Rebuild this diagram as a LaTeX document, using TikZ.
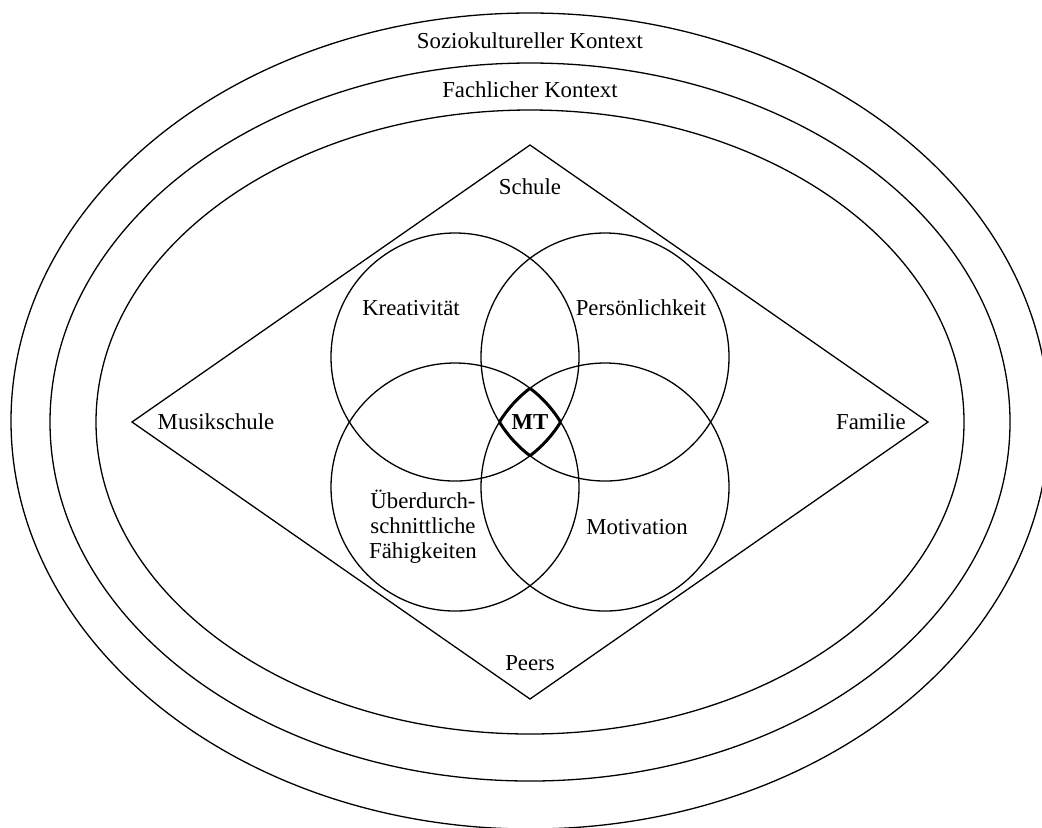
\documentclass[tikz,border=0pt]{standalone}
\usepackage{fontspec}
\setmainfont{Liberation Serif}
\begin{document}
\begin{tikzpicture}[x=0.5pt, y=-0.5pt, line width=0.65pt,
  lbl/.style={font=\fontsize{11.4}{12.5}\selectfont, inner sep=0pt, align=center},
  lens/.style={line width=1.5pt}]
\useasboundingbox (0,0) rectangle (1042,827);
\clip (0,0) rectangle (1042,827);

% context ellipses
\draw (530,421) ellipse [x radius=519, y radius=408];
\draw (530,422) ellipse [x radius=480, y radius=359];
\draw (530,422) ellipse [x radius=434, y radius=312];

% environment diamond
\coordinate (dT) at (530,145);
\coordinate (dR) at (928,422);
\coordinate (dB) at (530,699);
\coordinate (dL) at (132,422);
\draw (dT) -- (dR) -- (dB) -- (dL) -- cycle;

% four overlapping circles
\def\rc{124}
\coordinate (cTL) at (455,357);
\coordinate (cTR) at (605,357);
\coordinate (cBL) at (455,487);
\coordinate (cBR) at (605,487);
\foreach \c in {cTL,cTR,cBL,cBR} \draw (\c) circle [radius=\rc];

% common intersection, outlined thick
\begin{scope}
  \clip (cTL) circle [radius=\rc]; \clip (cTR) circle [radius=\rc]; \clip (cBL) circle [radius=\rc];
  \draw[lens] (cBR) circle [radius=\rc];
\end{scope}
\begin{scope}
  \clip (cTL) circle [radius=\rc]; \clip (cTR) circle [radius=\rc]; \clip (cBR) circle [radius=\rc];
  \draw[lens] (cBL) circle [radius=\rc];
\end{scope}
\begin{scope}
  \clip (cTL) circle [radius=\rc]; \clip (cBL) circle [radius=\rc]; \clip (cBR) circle [radius=\rc];
  \draw[lens] (cTR) circle [radius=\rc];
\end{scope}
\begin{scope}
  \clip (cTR) circle [radius=\rc]; \clip (cBL) circle [radius=\rc]; \clip (cBR) circle [radius=\rc];
  \draw[lens] (cTL) circle [radius=\rc];
\end{scope}

% labels
\node[lbl] (sozio) at (530,41) {Soziokultureller Kontext};
\node[lbl] (fach) at (530,90) {Fachlicher Kontext};
\node[lbl] (schule) at (530,187) {Schule};
\node[lbl] (peers) at (530,663) {Peers};
\node[lbl] (musik) at (216,422) {Musikschule};
\node[lbl] (familie) at (871,422) {Familie};
\node[lbl] (krea) at (411,308) {Kreativität};
\node[lbl] (pers) at (641,308) {Persönlichkeit};
\node[lbl] (faeh) at (423,527) {Überdurch-\\schnittliche\\Fähigkeiten};
\node[lbl] (moti) at (637,527) {Motivation};
\node[lbl, font=\fontsize{11.4}{12.5}\selectfont\bfseries] (mt) at (530,422) {MT};
\end{tikzpicture}
\end{document}
